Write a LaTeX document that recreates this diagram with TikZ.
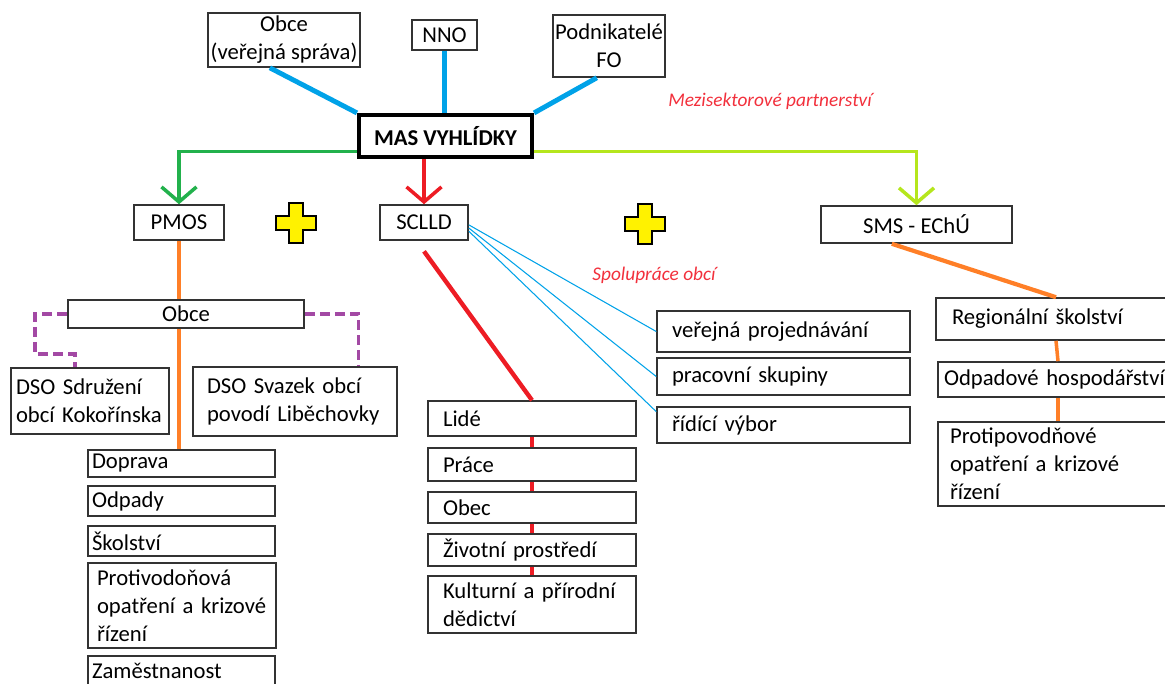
\documentclass[tikz,border=0pt]{standalone}
\usepackage{fontspec}
\setmainfont{Carlito}
\usepackage[HTML]{xcolor}
\usepackage{tikz}
\usetikzlibrary{positioning, arrows.meta}

\definecolor{partnerblue}{HTML}{00A2E8}
\definecolor{pmosgreen}{HTML}{22B14C}
\definecolor{sclldred}{HTML}{ED1C24}
\definecolor{smslime}{HTML}{B5E61D}
\definecolor{obceorange}{HTML}{FF7F27}
\definecolor{dsopurple}{HTML}{A349A4}
\definecolor{plusyellow}{HTML}{FFF200}
\definecolor{notered}{HTML}{F2303C}
\definecolor{boxgray}{HTML}{333333}

\begin{document}
\begin{tikzpicture}[x=0.02cm, y=-0.02cm,
  every node/.style={font=\fontsize{12.9}{15.9}\selectfont},
  box/.style={draw=boxgray, line width=0.9pt, fill=white, inner sep=0pt, align=center},
  lbox/.style={box, align=left, inner xsep=0.3cm},
  note/.style={text=notered, font=\fontsize{11}{13}\selectfont\itshape},
  headarrow/.style={-{Straight Barb[length=3mm, width=7mm]}},
  partnerline/.style={partnerblue, line width=2.8pt},
  meetline/.style={partnerblue, line width=0.6pt},
  sclldline/.style={sclldred, line width=2pt},
  obceline/.style={obceorange, line width=2pt},
  dsoline/.style={dsopurple, line width=2pt, dash pattern=on 0.2cm off 0.1cm},
  plusmark/.style={fill=plusyellow, draw=black, line width=1pt}]

\clip (0,0) rectangle (1165,683);

% --- Partners and the MAS ---
\node[box, minimum width=3.04cm, minimum height=1.08cm] (obcevs) at (284,40) {Obce\\(veřejná správa)};
\node[box, minimum width=1.3cm, minimum height=0.6cm] (nno) at (444.5,35) {NNO};
\node[box, minimum width=2.24cm, minimum height=1.24cm] (podnik) at (609,46) {Podnikatelé\\FO};
\node[box, draw=black, line width=2.4pt, minimum width=3.46cm, minimum height=0.84cm,
      font=\fontsize{12.9}{15.9}\selectfont\bfseries] (mas) at (445.5,136) {MAS VYHLÍDKY};

% --- Strategies ---
\node[box, minimum width=1.8cm, minimum height=0.7cm] (pmos) at (179,222.5) {PMOS};
\node[box, minimum width=1.76cm, minimum height=0.7cm] (sclld) at (424,222.5) {SCLLD};
\node[box, minimum width=3.82cm, minimum height=0.74cm] (sms) at (916.5,224.5) {SMS - EChÚ};

% --- PMOS branch ---
\node[box, minimum width=4.72cm, minimum height=0.56cm] (obce) at (186,314) {Obce};
\node[lbox, inner xsep=0.1cm, text width=2.96cm, minimum height=1.32cm] (dsosdruz) at (90,401) {DSO Sdružení\\obcí Kokořínska};
\node[lbox, inner xsep=0.28cm, text width=3.52cm, minimum height=1.38cm] (dsosvazek) at (295,401.5) {DSO Svazek obcí\\povodí Liběchovky};
\node[lbox, inner xsep=0.08cm, text width=3.58cm, minimum height=0.54cm] (doprava) at (181.5,463.5) {Doprava};
\node[lbox, inner xsep=0.08cm, text width=3.58cm, minimum height=0.6cm] (odpady) at (181.5,501) {Odpady};
\node[lbox, inner xsep=0.08cm, text width=3.58cm, minimum height=0.6cm] (skolstvi) at (181.5,541) {Školství};
\node[lbox, inner xsep=0.18cm, text width=3.4cm, minimum height=1.7cm] (protivod) at (182,605.5) {Protivodoňová\\opatření a krizové\\řízení};
\node[lbox, inner xsep=0.08cm, text width=3.58cm, minimum height=0.6cm] (zamest) at (181.5,671) {Zaměstnanost};

% --- SCLLD branch ---
\node[lbox, text width=3.56cm, minimum height=0.7cm] (lide) at (532,418.5) {Lidé};
\node[lbox, text width=3.56cm, minimum height=0.66cm] (prace) at (532,464.5) {Práce};
\node[lbox, text width=3.56cm, minimum height=0.62cm] (obec) at (532,507.5) {Obec};
\node[lbox, text width=3.56cm, minimum height=0.64cm] (zivot) at (532,550) {Životní prostředí};
\node[lbox, text width=3.56cm, minimum height=1.14cm] (kultura) at (532,604.5) {Kulturní a přírodní\\dědictví};
\node[lbox, text width=4.46cm, minimum height=0.82cm] (verejna) at (783.5,331.5) {veřejná projednávání};
\node[lbox, text width=4.46cm, minimum height=0.74cm] (pracovni) at (783.5,376.5) {pracovní skupiny};
\node[lbox, text width=4.46cm, minimum height=0.72cm] (ridici) at (783.5,425) {řídící výbor};

% --- SMS branch ---
\node[lbox, inner xsep=0.32cm, text width=4.16cm, minimum height=0.84cm] (region) at (1056,319) {Regionální školství};
\node[lbox, inner xsep=0.12cm, text width=4.56cm, minimum height=0.7cm] (odpad) at (1058,379.5) {Odpadové hospodářství};
\node[lbox, inner xsep=0.24cm, text width=4.32cm, minimum height=1.68cm] (protipov) at (1058,464) {Protipovodňové\\opatření a krizové\\řízení};

% --- Notes ---
\node[note] (mezisek) at (770,101) {Mezisektorové partnerství};
\node[note] (spoluprace) at (654,275) {Spolupráce obcí};

% --- Plus marks ---
\foreach \px/\py in {296/223, 645/224}
  \draw[plusmark] (\px,\py) +(-7,-20) -- +(7,-20) -- +(7,-7) -- +(20,-7) -- +(20,7) -- +(7,7)
    -- +(7,20) -- +(-7,20) -- +(-7,7) -- +(-20,7) -- +(-20,-7) -- +(-7,-7) -- cycle;

% --- Connectors ---
\draw[partnerline] (obcevs.243) -- (mas.north west);
\draw[partnerline] (nno.south) -- (nno.south |- mas.north);
\draw[partnerline] (podnik.249) -- (mas.north east);

\draw[headarrow, pmosgreen, line width=2pt] (mas.190) -| (pmos.north);
\draw[headarrow, sclldline] (mas.south -| sclld.north) -- (sclld.north);
\draw[headarrow, smslime, line width=2pt] (mas.350) -| (sms.north);

\draw[obceline] (pmos.south) -- (pmos.south |- obce.north);
\draw[obceline] (pmos.south |- obce.south) -- (pmos.south |- doprava.north);
\draw[dsoline] (obce.west) -- ++(-32,0) -- ++(0,40) -| (dsosdruz.114);
\draw[dsoline] (obce.east) -| (dsosvazek.29);

\draw[sclldline, line width=2.5pt] ([yshift=-6pt]sclld.south) -- (lide.north);
\foreach \a/\b in {lide/prace, prace/obec, obec/zivot, zivot/kultura}
  \draw[sclldline, line width=1.8pt] (\a.south) -- (\b.north);
\draw[meetline] (sclld.-3) -- (verejna.west);
\draw[meetline] (sclld.-7) -- (pracovni.west);
\draw[meetline] (sclld.-11) -- (ridici.174);

\draw[obceline, line width=2.4pt] (sms.218) -- (region.north);
\draw[obceline] (region.south) -- (odpad.north);
\draw[obceline] (odpad.south) -- (protipov.north);

\end{tikzpicture}
\end{document}
